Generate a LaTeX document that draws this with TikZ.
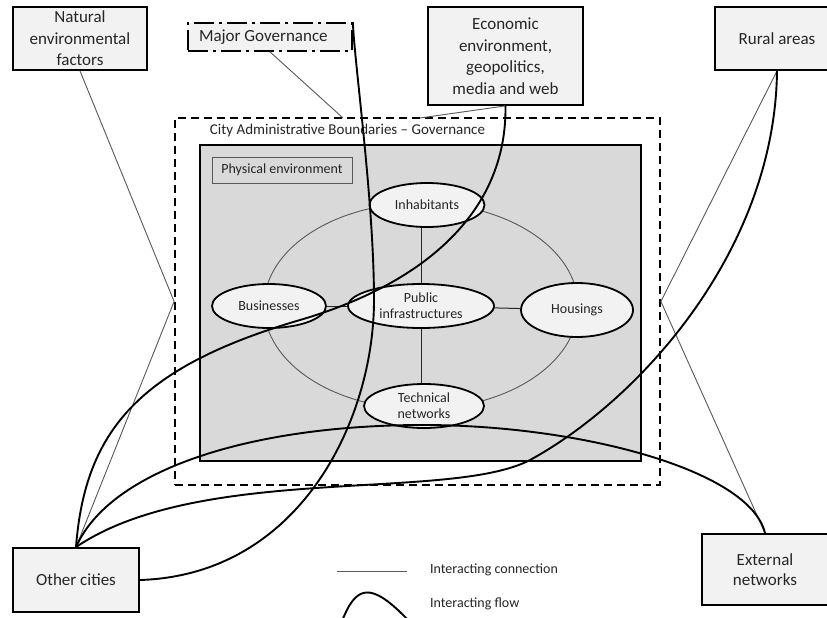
\documentclass[tikz,border=0pt]{standalone}
\usepackage{fontspec}
\setmainfont{Carlito}
\usetikzlibrary{shapes.geometric}
\pgfdeclarelayer{bg}
\pgfdeclarelayer{mid}
\pgfsetlayers{bg,mid,main}
\definecolor{boxfill}{HTML}{F2F2F2}
\definecolor{physfill}{HTML}{D9D9D9}
\definecolor{linkgray}{HTML}{595959}
\definecolor{txt}{HTML}{262626}
\tikzset{
  box/.style={draw=black, line width=1.8pt, fill=boxfill, align=center, inner sep=0pt, text=txt, font=\fontsize{17}{21.5}\selectfont},
  oval/.style={ellipse, draw=black, line width=1.8pt, fill=boxfill, align=center, inner sep=0pt, text=txt, font=\fontsize{14}{16}\selectfont},
  link/.style={draw=linkgray, line width=0.9pt},
  spoke/.style={draw=black!85, line width=1pt},
  flow/.style={draw=black, line width=1.9pt},
  boundary/.style={draw=black, line width=1.8pt, dash pattern=on 8pt off 5pt, inner sep=0pt},
  smalltext/.style={text=txt, font=\fontsize{14}{16}\selectfont, inner sep=0pt},
}
\begin{document}
\begin{tikzpicture}[x=1pt,y=-1pt]
\useasboundingbox (0,0) rectangle (827,618);
\clip (0,0) rectangle (827,618);

\begin{pgfonlayer}{bg}
  \fill[white] (0,0) rectangle (827,618);
  \node[boundary, minimum width=485pt, minimum height=367pt] (city) at (417.5,301.5) {};
  \node[draw=black, line width=1.8pt, fill=physfill, minimum width=441pt, minimum height=316pt] (phys) at (420.5,303) {};
  \node[text=txt, font=\fontsize{15}{18}\selectfont, inner sep=0pt] (citylabel) at (347.5,131) {City Administrative Boundaries -- Governance};
  \node[draw=linkgray, line width=0.9pt, minimum width=140pt, minimum height=26pt, smalltext] (physlabel) at (282,170) {Physical environment};
\end{pgfonlayer}

% inner ellipses
\node[oval, minimum width=115pt, minimum height=44pt] (inh) at (427,205) {Inhabitants};
\node[oval, minimum width=114pt, minimum height=44pt] (bus) at (269,306) {Businesses};
\node[oval, minimum width=146pt, minimum height=44pt] (pub) at (421,306) {Public\\infrastructures};
\node[oval, minimum width=112pt, minimum height=54pt] (hou) at (577,310) {Housings};
\node[oval, minimum width=120pt, minimum height=44pt] (tec) at (424,406) {Technical\\networks};

\begin{pgfonlayer}{mid}
  \node[ellipse, draw=linkgray, line width=0.9pt, minimum width=314pt, minimum height=206pt] (ring) at (421,306) {};
  \draw[spoke] (bus) -- (pub);
  \draw[spoke] (pub) -- (hou);
  \draw[spoke] (pub) -- (pub |- inh);
  \draw[spoke] (pub) -- (pub |- tec);
\end{pgfonlayer}

% outer boxes
\node[box, minimum width=134pt, minimum height=63pt] (nat) at (80,38.5) {Natural\\environmental\\factors};
\node[box, minimum width=164pt, minimum height=28pt, dash pattern=on 20pt off 5pt on 3pt off 5pt] (mg) at (270,37) {\makebox[142pt][l]{Major Governance}};
\node[box, minimum width=155pt, minimum height=98pt] (eco) at (505.5,56) {Economic\\environment,\\geopolitics,\\media and web};
\node[box, minimum width=124pt, minimum height=63pt] (rur) at (777,38.5) {Rural areas};
\node[box, minimum width=126pt, minimum height=64pt] (oc) at (76,580) {Other cities};
\node[box, minimum width=126pt, minimum height=71pt, font=\fontsize{17}{20}\selectfont] (ext) at (765,569.5) {External\\networks};

% points on the city boundary
\coordinate (cgA) at (343,118);
\coordinate (cgB) at (420,118);

% interacting connections
\draw[link] (nat.south) -- (city.west) -- (oc.north);
\draw[link] (rur.south) -- (city.east) -- (ext.north);
\draw[link] (mg.south) -- (cgA);
\draw[link] (eco.south) -- (cgB);

% interacting flows
\draw[flow] (mg.north east) .. controls (354,60) and (374,200) .. (374,300)
            .. controls (374,420) and (300,575) .. (oc.east);
\draw[flow] (eco.south) .. controls (507,215) and (420,285) .. (300,320)
            .. controls (140,367) and (85,430) .. (oc.north);
\draw[flow] (oc.north) .. controls (110,470) and (250,425) .. (423,425)
            .. controls (580,425) and (750,470) .. (ext.north);
\draw[flow] (rur.south) .. controls (775,250) and (640,400) .. (530,460)
            .. controls (450,502) and (200,463) .. (oc.north);

% legend
\coordinate (legA) at (337,571);
\coordinate (legB) at (407,571);
\draw[link] (legA) -- (legB);
\node[smalltext, anchor=west] (legT1) at (430,570) {Interacting connection};
\coordinate (legC) at (342,621);
\coordinate (legD) at (409,621);
\draw[flow] (legC) .. controls (356,586) and (370,580) .. (legD);
\node[smalltext, anchor=west] (legT2) at (430,604) {Interacting flow};
\end{tikzpicture}
\end{document}
